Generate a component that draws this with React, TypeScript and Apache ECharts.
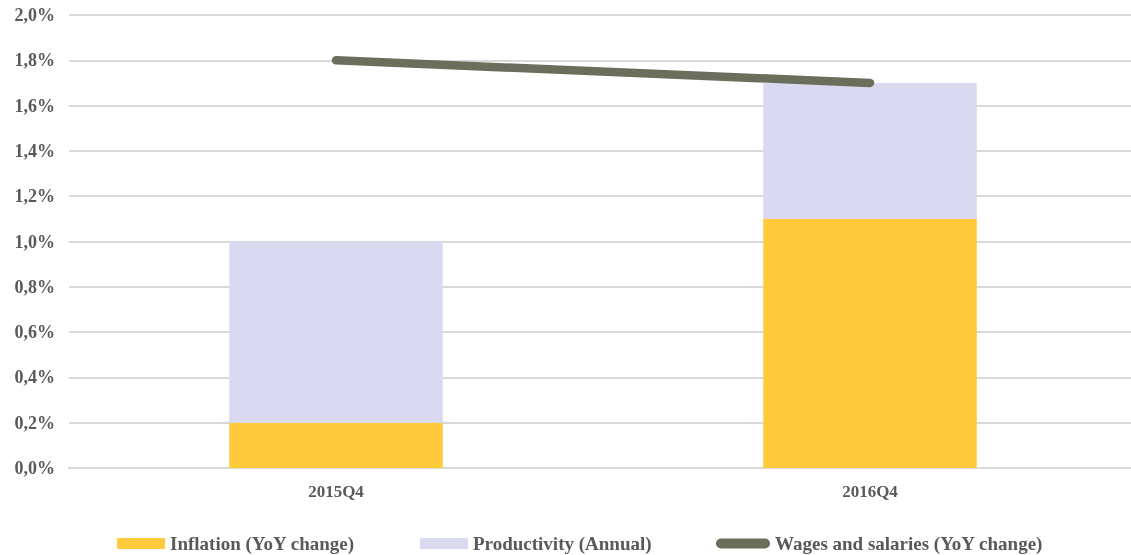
import React, { useEffect, useRef } from "react";
import * as echarts from "echarts";

const categories = ["2015Q4", "2016Q4"];
const inflation = [0.2, 1.1];
const productivity = [0.8, 0.6];
const wages = [1.8, 1.7];
const yTicks = { min: 0, max: 2.0, interval: 0.2 };
const seriesNames = ["Inflation (YoY change)", "Productivity (Annual)", "Wages and salaries (YoY change)"];

const FONT = "'Liberation Serif', 'DejaVu Serif', serif";
const TEXT = "#595959";
const LINE_COLOR = "#6B6E5B";

export default function App() {
  const ref = useRef<HTMLDivElement>(null);
  useEffect(() => {
    if (!ref.current) return;
    const chart = echarts.init(ref.current, undefined, { renderer: "svg" });
    const legendText = { color: TEXT, fontFamily: FONT, fontWeight: "bold", fontSize: 19 };
    chart.setOption({
      animation: false,
      textStyle: { fontFamily: FONT },
      grid: { left: 69, right: 0, top: 15, bottom: 87, containLabel: false },
      xAxis: {
        type: "category",
        data: categories,
        axisTick: { show: false },
        axisLine: { lineStyle: { color: "#d9d9d9", width: 2 } },
        axisLabel: { color: TEXT, fontFamily: FONT, fontWeight: "bold", fontSize: 17, margin: 15 },
      },
      yAxis: {
        type: "value",
        min: yTicks.min,
        max: yTicks.max,
        interval: yTicks.interval,
        axisLine: { show: false },
        axisTick: { show: false },
        splitLine: { lineStyle: { color: "#d9d9d9", width: 2 } },
        axisLabel: {
          color: TEXT,
          fontFamily: FONT,
          fontWeight: "bold",
          fontSize: 18,
          margin: 14,
          formatter: (v: number) => v.toFixed(1).replace(".", ",") + "%",
        },
      },
      legend: [
        {
          left: 112,
          bottom: -3,
          itemWidth: 48,
          itemHeight: 11,
          textStyle: legendText,
          data: [{ name: seriesNames[0], icon: "rect" }],
        },
        {
          left: 415,
          bottom: -3,
          itemWidth: 48,
          itemHeight: 11,
          textStyle: legendText,
          data: [{ name: seriesNames[1], icon: "rect" }],
        },
        {
          left: 711,
          bottom: -3,
          itemWidth: 54,
          itemHeight: 10,
          textStyle: legendText,
          data: [
            {
              name: seriesNames[2],
              icon: "path://M5,0 L49,0 A5,5 0 0 1 49,10 L5,10 A5,5 0 0 1 5,0 Z",
              itemStyle: { color: LINE_COLOR },
            },
          ],
        },
      ],
      series: [
        {
          name: seriesNames[0],
          type: "bar",
          stack: "total",
          barWidth: "40%",
          data: inflation,
          itemStyle: { color: "#FFCB3C" },
        },
        {
          name: seriesNames[1],
          type: "bar",
          stack: "total",
          barWidth: "40%",
          data: productivity,
          itemStyle: { color: "#D9DAF0" },
        },
        {
          name: seriesNames[2],
          type: "line",
          data: wages,
          showSymbol: false,
          symbol: "none",
          lineStyle: { color: LINE_COLOR, width: 8.5, cap: "round" },
          itemStyle: { color: LINE_COLOR },
        },
      ],
    });
    return () => chart.dispose();
  }, []);
  return (
    <div
      style={{ position: "fixed", left: 0, top: 0, width: 1131, height: 555, overflow: "hidden" }}
    >
      <div ref={ref} style={{ width: 1137, height: 555 }} />
    </div>
  );
}
